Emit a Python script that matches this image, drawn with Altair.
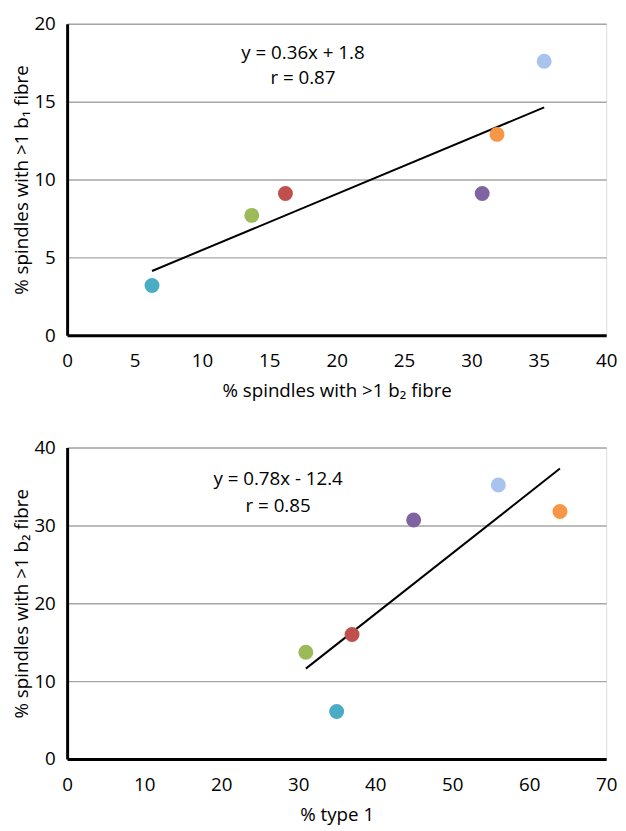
import altair as alt
import pandas as pd

# ---- data ----
groups = ["A", "B", "C", "D", "E", "F"]
colors = ["#4bacc6", "#9bbb59", "#c0504d", "#8064a2", "#f79646", "#a8c4ee"]

# top panel: % spindles with >1 b2 fibre (x) vs % spindles with >1 b1 fibre (y)
b2_pct = [6.3, 13.7, 16.2, 30.8, 31.9, 35.4]
b1_pct = [3.2, 7.7, 9.1, 9.1, 12.9, 17.6]

# bottom panel: % type 1 (x) vs % spindles with >1 b2 fibre (y)
type1_pct = [35.0, 31.0, 37.0, 45.0, 64.0, 56.0]
b2_pct_bottom = [6.1, 13.7, 16.0, 30.7, 31.8, 35.2]

top_eq = ["y = 0.36x + 1.8", "r = 0.87"]
top_eq_x = [17.5, 17.5]
top_eq_y = [18.1, 16.5]

bot_eq = ["y = 0.78x - 12.4", "r = 0.85"]
bot_eq_x = [27.4, 27.4]
bot_eq_y = [35.9, 32.5]

FONT = "Open Sans"
FS = 19
W, H = 547, 316


def panel(xs, ys, xdom, xstep, ydom, ystep, xtitle, ytitle, eq, eqx, eqy):
    df = pd.DataFrame({"x": xs, "y": ys, "g": groups})
    tdf = pd.DataFrame({"x": eqx, "y": eqy, "t": eq})
    xscale = alt.Scale(domain=xdom, nice=False, zero=True)
    yscale = alt.Scale(domain=ydom, nice=False, zero=True)
    xax = alt.Axis(
        values=list(range(xdom[0], xdom[1] + 1, xstep)), grid=False, ticks=False,
        domainColor="black", domainWidth=3, labelPadding=17, labelFontSize=FS,
        labelFont=FONT, labelColor="black", title=xtitle, titleFont=FONT,
        titleFontSize=FS, titleFontWeight="normal", titleColor="black", titlePadding=11,
        labelFlush=False,
    )
    yax = alt.Axis(
        values=list(range(ydom[0], ydom[1] + 1, ystep)), grid=True, gridColor="#a6a6a6",
        gridWidth=1.5, ticks=False, domainColor="black", domainWidth=3,
        labelPadding=12, labelFontSize=FS, labelFont=FONT, labelColor="black",
        title=ytitle, titleFont=FONT, titleFontSize=FS, titleFontWeight="normal",
        titleColor="black", titlePadding=2,
    )
    pts = alt.Chart(df).mark_circle(size=230, opacity=1).encode(
        x=alt.X("x:Q", scale=xscale, axis=xax),
        y=alt.Y("y:Q", scale=yscale, axis=yax),
        color=alt.Color("g:N", scale=alt.Scale(domain=groups, range=colors), legend=None),
    )
    line = alt.Chart(df).transform_regression("x", "y").mark_line(
        color="black", strokeWidth=2
    ).encode(x=alt.X("x:Q", scale=xscale), y=alt.Y("y:Q", scale=yscale))
    txt = alt.Chart(tdf).mark_text(
        font=FONT, fontSize=FS, color="black", align="center", baseline="middle"
    ).encode(x=alt.X("x:Q", scale=xscale), y=alt.Y("y:Q", scale=yscale), text="t:N")
    return alt.layer(line, pts, txt).properties(width=W, height=H)


top = panel(b2_pct, b1_pct, [0, 40], 5, [0, 20], 5,
            "% spindles with >1 b\u2082 fibre", "% spindles with >1 b\u2081 fibre",
            top_eq, top_eq_x, top_eq_y)
bottom = panel(type1_pct, b2_pct_bottom, [0, 70], 10, [0, 40], 10,
               "% type 1", "% spindles with >1 b\u2082 fibre",
               bot_eq, bot_eq_x, bot_eq_y)

chart = alt.vconcat(top, bottom, spacing=37).properties(
    padding={"left": 4, "top": 0, "right": 0, "bottom": 0}
).configure_view(stroke=None).configure(background="white")

chart.save("out.html", embed_options={"renderer": "svg", "actions": False})
